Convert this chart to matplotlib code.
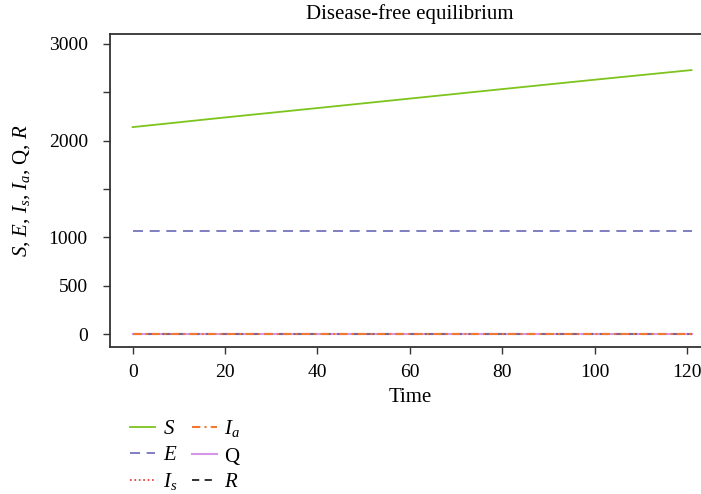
import matplotlib
matplotlib.use("Agg")
import matplotlib.pyplot as plt
import numpy as np

plt.rcParams['font.family'] = ['Liberation Serif', 'DejaVu Serif']
plt.rcParams['mathtext.fontset'] = 'custom'
plt.rcParams['mathtext.rm'] = 'Liberation Serif'
plt.rcParams['mathtext.it'] = 'Liberation Serif:italic'

# Data
time = [0, 20, 40, 60, 80, 100, 121]
S = [2140, 2240, 2337, 2435, 2533, 2630, 2730]
E = [1065, 1065, 1065, 1065, 1065, 1065, 1065]
Is = [0, 0, 0, 0, 0, 0, 0]
Ia = [0, 0, 0, 0, 0, 0, 0]
Q = [0, 0, 0, 0, 0, 0, 0]
R = [0, 0, 0, 0, 0, 0, 0]

yticks = [0, 500, 1000, 1500, 2000, 2500, 3000]
ytick_labels = ['0', '500', '1000', '', '2000', '', '3000']
xticks = [0, 20, 40, 60, 80, 100, 120]

fig = plt.figure(figsize=(7.01, 4.94), dpi=100)
ax = fig.add_axes([110/701, 1 - 347/494, 600/701, (347-34)/494])

lS, = ax.plot(time, S, color='#7DC41C', lw=1.3, ls='-', label='$S$')
lE, = ax.plot(time, E, color='#6A6AB8', lw=1.2, ls=(0, (6, 4)), label='$E$')
lIs, = ax.plot(time, Is, color='#E0302A', lw=1.2, ls=':', label='$I_s$')
lQ, = ax.plot(time, Q, color='#D596E8', lw=1.5, ls='-', label='$\\mathrm{Q}$')
lR, = ax.plot(time, R, color='#222222', lw=1.5, ls=(0, (4, 3)), alpha=0.45, label='$R$')
lIa, = ax.plot(time, Ia, color='#F07830', lw=1.5, ls=(0, (4, 2, 1, 2)), label='$I_a$')

ax.set_xlim(-4.9, 125)
ax.set_ylim(-134, 3103)
ax.set_yticks(yticks)
ax.set_yticklabels(ytick_labels)
ax.set_xticks(xticks)
ax.tick_params(labelsize=14, length=5, width=1.0, color='#333333')
ax.tick_params(axis='y', pad=11)
ax.tick_params(axis='x', pad=7)
for side in ['left', 'top', 'bottom']:
    ax.spines[side].set_linewidth(1.3)
    ax.spines[side].set_color('#333333')
ax.spines['right'].set_visible(False)

ax.set_title('Disease-free equilibrium', fontsize=15, pad=11)
ax.set_xlabel('Time', fontsize=15, labelpad=5)
ax.set_ylabel('$S$, $E$, $I_s$, $I_a$, $\\mathrm{Q}$, $R$', fontsize=15, labelpad=12)

# legend proxies (R shown fully black)
from matplotlib.lines import Line2D
hR = Line2D([], [], color='#222222', lw=1.3, ls=(0, (4, 3)))
handles = [lS, lE, lIs, lIa, lQ, hR]
labels = ['$S$', '$E$', '$I_s$', '$I_a$', '$\\mathrm{Q}$', '$R$']
fig.legend(handles, labels, ncol=2, loc='upper left',
           bbox_to_anchor=(122/701, 1 - 410/494), frameon=False,
           fontsize=15, handlelength=1.2, handletextpad=0.35,
           columnspacing=0.7, labelspacing=0.3, borderaxespad=0)

fig.savefig('out.png', dpi=100)
